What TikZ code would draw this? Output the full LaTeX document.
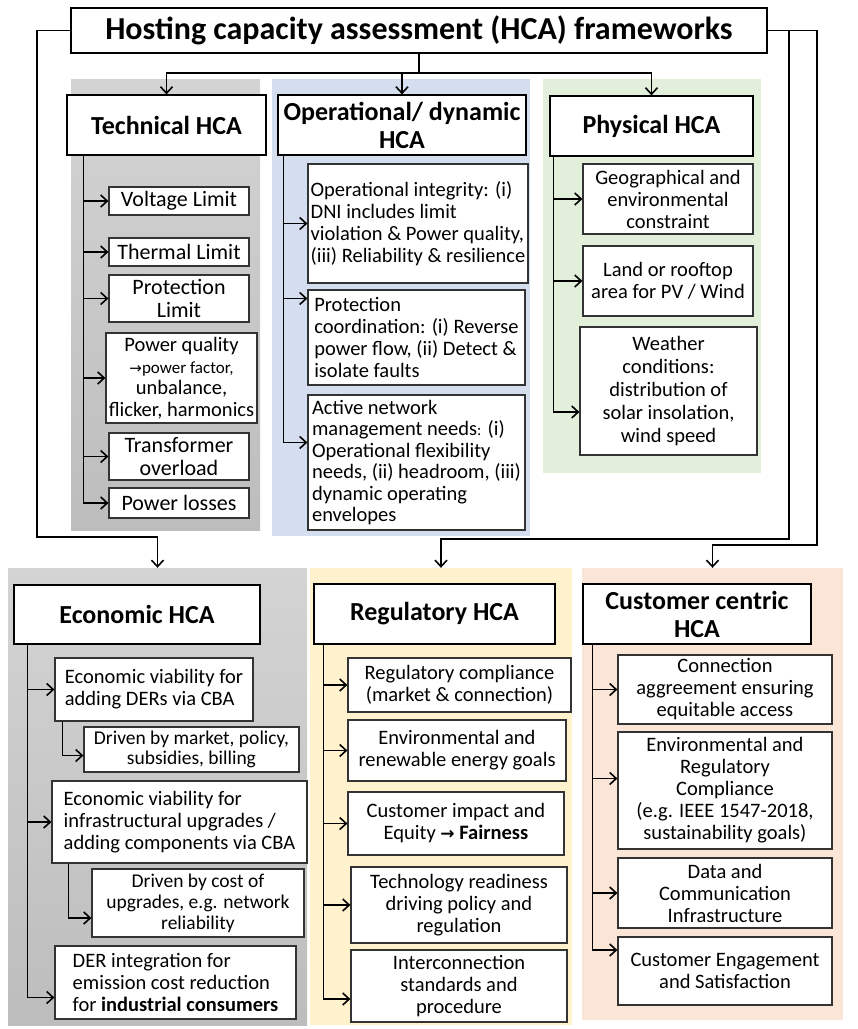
\documentclass[tikz,border=0pt]{standalone}
\usepackage{fontspec}
\setmainfont{Carlito}
\newfontfamily\symfont{DejaVu Sans}
\usetikzlibrary{arrows.meta}

\begin{document}
\begin{tikzpicture}[x = 1pt, y = -1pt, font = \fontsize{20.5}{22}\selectfont, every node/.style = {inner sep = 2pt}, wh/.style 2 args = {minimum width = #1pt, minimum height = #2pt}, panel/.style = {draw = none, inner sep = 0pt}, graypanel/.style = {panel, top color = gray!34, bottom color = gray!52}, box/.style = {draw = black!80, fill = white, line width = 1.2pt, align = center}, techbox/.style = {box, font = \fontsize{22}{23}\selectfont}, head/.style = {box, draw = black, font = \fontsize{26}{28}\selectfont\bfseries}, conn/.style = {line width = 1.7pt, -{Straight Barb[length = 6.5pt, width = 12pt, line width = 1.6pt]}}]
        \useasboundingbox (0,0) rectangle (858,1029);
        \node[graypanel, wh = {189}{451}] (techp) at (165.5,304.5) {};
        \node[panel, fill = {rgb,255:red,213;green,222;blue,239}, wh = {258}{457}] (operp) at (401,307.5) {};
        \node[panel, fill = {rgb,255:red,226;green,239;blue,218}, wh = {218}{394}] (physp) at (652,276) {};
        \node[graypanel, wh = {299}{457}] (econp) at (157.5,796.5) {};
        \node[panel, fill = {rgb,255:red,255;green,242;blue,204}, wh = {262}{457}] (regup) at (441,796.5) {};
        \node[panel, fill = {rgb,255:red,251;green,229;blue,214}, wh = {261}{452}] (custp) at (712.5,794) {};
        \node[head, wh = {696}{45}, font = \fontsize{32}{34}\selectfont\bfseries] (title) at (419,30.5) {Hosting capacity assessment (HCA) frameworks};
        \node[head, wh = {199}{60}] (tech) at (166.5,125) {Technical HCA};
        \node[head, wh = {248}{60}] (oper) at (402,125) {Operational/ dynamic\\HCA};
        \node[head, wh = {203}{60}] (phys) at (651.5,126) {Physical HCA};
        \node[head, wh = {246}{59}] (econ) at (137,614.5) {Economic HCA};
        \node[head, wh = {241}{60}] (regu) at (434.5,614) {Regulatory HCA};
        \node[head, wh = {228}{60}] (cust) at (697,614) {Customer centric\\HCA};
        \node[techbox, wh = {140}{28}] (volt) at (179,201) {Voltage Limit};
        \node[techbox, wh = {140}{28}] (therm) at (179,252) {Thermal Limit};
        \node[techbox, wh = {140}{47}] (prot) at (179,298.5) {Protection\\Limit};
        \node[box, wh = {151}{90}, font = \fontsize{20.5}{21.5}\selectfont] (pq) at (181.5,378) {Power quality\\{\fontsize{17}{18}\selectfont{\symfont\fontsize{15}{18}\selectfont →}power factor,}\\unbalance,\\flicker, harmonics};
        \node[techbox, wh = {140}{47}] (trafo) at (179,456.5) {Transformer\\overload};
        \node[techbox, wh = {140}{30}] (loss) at (179,503) {Power losses};
        \node[box, align = left, wh = {220}{119}] (integ) at (418,223.5) {Operational integrity: (i)\\DNI includes limit\\violation \& Power quality,\\(iii) Reliability \& resilience};
        \node[box, align = left, wh = {217}{95}] (coord) at (416.5,337.5) {Protection\\coordination: (i) Reverse\\power flow, (ii) Detect \&\\isolate faults};
        \node[box, align = left, wh = {217}{135}, font = \fontsize{20.5}{21.5}\selectfont] (anm) at (416.5,462.5) {Active network\\management needs{\fontsize{16}{18}\selectfont:} (i)\\Operational flexibility\\needs, (ii) headroom, (iii)\\dynamic operating\\envelopes};
        \node[box, wh = {170}{70}] (geo) at (668,199) {Geographical and\\environmental\\constraint};
        \node[box, wh = {170}{70}] (land) at (668,281) {Land or rooftop\\area for PV / Wind};
        \node[box, wh = {177}{128}, font = \fontsize{20.5}{23}\selectfont] (weather) at (668.5,391) {Weather\\conditions:\\distribution of\\solar insolation,\\wind speed};
        \node[box, align = left, wh = {198}{63}] (viab) at (154,689.5) {Economic viability for\\adding DERs via CBA};
        \node[box, wh = {215}{45}, font = \fontsize{19.5}{20}\selectfont] (market) at (191.5,749.5) {Driven by market, policy,\\subsidies, billing};
        \node[box, align = left, wh = {255}{82}] (infra) at (179.5,822) {Economic viability for\\infrastructural upgrades /\\adding components via CBA};
        \node[box, wh = {212}{68}, font = \fontsize{19.5}{21}\selectfont] (upgr) at (198,903) {Driven by cost of\\upgrades, e.g. network\\reliability};
        \node[box, align = left, wh = {241}{73}] (emis) at (175.5,982.5) {DER integration for\\emission cost reduction\\for \textbf{industrial consumers}};
        \node[box, wh = {223}{54}] (compl) at (459.5,685) {Regulatory compliance\\(market \& connection)};
        \node[box, wh = {218}{61}] (goals) at (457,750.5) {Environmental and\\renewable energy goals};
        \node[box, wh = {216}{63}] (equity) at (456,823.5) {Customer impact and\\Equity {\symfont\bfseries\fontsize{17}{20}\selectfont →} \textbf{Fairness}};
        \node[box, wh = {216}{76}] (ready) at (459,905) {Technology readiness\\driving policy and\\regulation};
        \node[box, wh = {216}{72}] (inter) at (459,986) {Interconnection\\standards and\\procedure};
        \node[box, wh = {214}{69}] (agree) at (725,689.5) {Connection\\aggreement ensuring\\equitable access};
        \node[box, wh = {214}{117}] (envreg) at (725,790.5) {Environmental and\\Regulatory\\Compliance\\(e.g. IEEE 1547-2018,\\sustainability goals)};
        \node[box, wh = {214}{70}] (data) at (725,893) {Data and\\Communication\\Infrastructure};
        \node[box, wh = {214}{68}] (engage) at (725,971) {Customer Engagement\\and Satisfaction};
        \coordinate (split) at (419,73);
        \coordinate (lbend) at (37,537);
        \coordinate (mbend) at (789,539);
        \coordinate (rbend) at (817,545);
        \draw[line width = 1.7pt] (title.south) -- (split);
        \draw[conn] (split) -| (tech.north);
        \draw[conn] (split) -| (oper.north);
        \draw[conn] (split) -| (phys.north);
        \draw[conn] (title.west) -| (lbend) -| (econp.north);
        \draw[conn] (title.east) -| (rbend) -| (custp.north);
        \draw[conn] (title.east -| mbend) -- (mbend) -| (regup.north);
        \draw[conn] ([xshift = 17pt]tech.south west) |- (volt.west);
        \draw[conn] ([xshift = 17pt]tech.south west) |- (therm.west);
        \draw[conn] ([xshift = 17pt]tech.south west) |- (prot.west);
        \draw[conn] ([xshift = 17pt]tech.south west) |- (pq.west);
        \draw[conn] ([xshift = 17pt]tech.south west) |- (trafo.west);
        \draw[conn] ([xshift = 17pt]tech.south west) |- (loss.west);
        \draw[conn] ([xshift = 6pt]oper.south west) |- (integ.west);
        \draw[conn] ([xshift = 6pt]oper.south west) |- ([yshift = 39pt]coord.west);
        \draw[conn] ([xshift = 6pt]oper.south west) |- ([yshift = 20pt]anm.west);
        \draw[conn] ([xshift = 4pt]phys.south west) |- (geo.west);
        \draw[conn] ([xshift = 4pt]phys.south west) |- (land.west);
        \draw[conn] ([xshift = 4pt]phys.south west) |- ([yshift = -21pt]weather.west);
        \draw[conn] ([xshift = 14pt]econ.south west) |- (viab.west);
        \draw[conn] ([xshift = 14pt]econ.south west) |- (infra.west);
        \draw[conn] ([xshift = 14pt]econ.south west) |- ([yshift = -15pt]emis.west);
        \draw[conn] ([xshift = 8pt]viab.south west) |- ([yshift = -6pt]market.west);
        \draw[conn] ([xshift = 17pt]infra.south west) |- ([yshift = -15pt]upgr.west);
        \draw[conn] ([xshift = 10pt]regu.south west) |- (compl.west);
        \draw[conn] ([xshift = 10pt]regu.south west) |- (goals.west);
        \draw[conn] ([xshift = 10pt]regu.south west) |- (equity.west);
        \draw[conn] ([xshift = 10pt]regu.south west) |- (ready.west);
        \draw[conn] ([xshift = 10pt]regu.south west) |- ([yshift = -13pt]inter.west);
        \draw[conn] ([xshift = 10pt]cust.south west) |- (agree.west);
        \draw[conn] ([xshift = 10pt]cust.south west) |- ([yshift = 12pt]envreg.west);
        \draw[conn] ([xshift = 10pt]cust.south west) |- (data.west);
        \draw[conn] ([xshift = 10pt]cust.south west) |- ([yshift = 21pt]engage.west);
    \end{tikzpicture}
\end{document}
